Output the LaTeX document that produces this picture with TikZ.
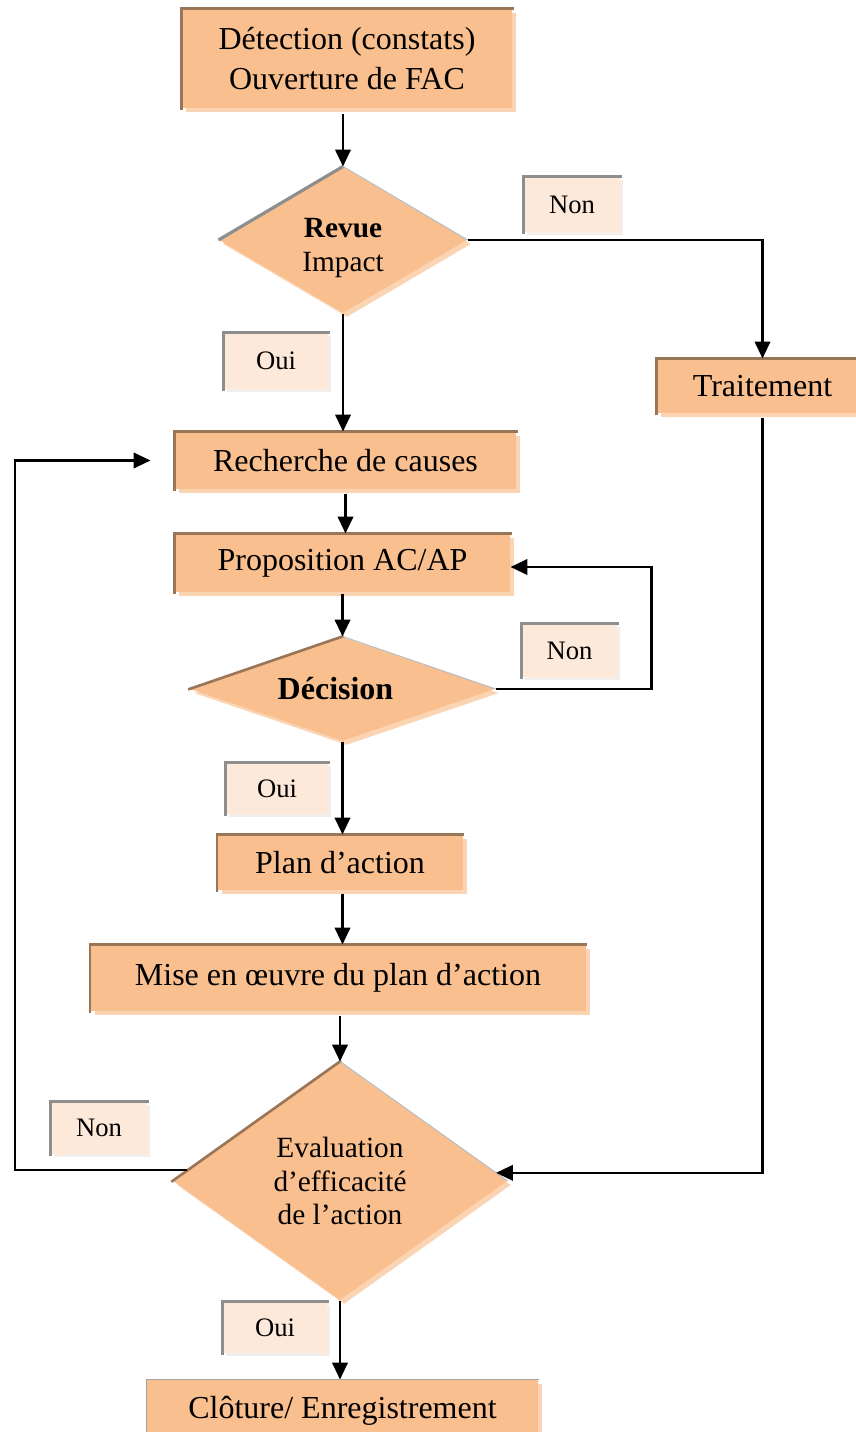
\documentclass[tikz,border=0pt]{standalone}
\usepackage{fontspec}
\setmainfont{Liberation Serif}
\usetikzlibrary{arrows.meta,shapes.geometric,shadows}

\definecolor{peach}{HTML}{FABF8F}
\definecolor{peachlt}{HTML}{FBD4B4}
\definecolor{tagfill}{HTML}{FDE9D9}
\definecolor{tagshade}{HTML}{F3EEEA}
\definecolor{rim}{HTML}{9A7658}
\definecolor{greyrim}{HTML}{8E8E8E}
\newcommand\pxu{0.375pt}

\tikzset{
  dims/.style 2 args={minimum width=#1*\pxu, minimum height=#2*\pxu},
  stepbox/.style={rectangle, fill=peach, inner sep=0pt, align=center,
    font=\fontsize{12}{15}\selectfont,
    drop shadow={shadow xshift=1.5pt, shadow yshift=-1.5pt, fill=peachlt, opacity=1}},
  choice/.style={diamond, fill=peach, inner sep=0pt, align=center,
    font=\fontsize{11}{12.4}\selectfont,
    drop shadow={shadow xshift=1.5pt, shadow yshift=-1.5pt, fill=peachlt, opacity=1}},
  tagbox/.style={rectangle, fill=tagfill, inner sep=0pt,
    font=\fontsize{10}{12}\selectfont,
    drop shadow={shadow xshift=1.2pt, shadow yshift=-1.2pt, fill=tagshade, opacity=1}},
  rimline/.style={rim, line width=1pt, line cap=rect},
  greyline/.style={greyrim, line width=0.9pt, line cap=rect},
  edgeline/.style={gray!55, line width=0.4pt},
  arr/.style={-{Triangle[length=6.3pt,width=5.8pt]}, line width=0.8pt},
}

\begin{document}
\begin{tikzpicture}[x=\pxu, y=-\pxu]
\useasboundingbox (0,0) rectangle (855,1432);

% process steps
\node[stepbox, dims={330}{99}] (det) at (347,58.5) {Détection (constats)\\Ouverture de FAC};
\node[stepbox, dims={211}{54}] (trait) at (762.5,386) {Traitement};
\node[stepbox, dims={341}{57}] (rech) at (345.5,460.5) {Recherche de causes};
\node[stepbox, dims={335}{58}] (prop) at (342.5,563) {Proposition AC/AP};
\node[stepbox, dims={245}{55}] (plan) at (340,862.5) {Plan d’action};
\node[stepbox, dims={495}{66}] (mise) at (338,978) {Mise en œuvre du plan d’action};
\node[stepbox, dims={391}{62}] (clot) at (342.5,1411) {Clôture/ Enregistrement};

% decisions
\node[choice, dims={248}{146}, shape aspect=1.7,
  label={[font=\fontsize{11}{12.4}\selectfont, align=center, yshift=-8*\pxu]center:{\textbf{Revue}\\Impact}}]
  (revue) at (343,240) {};
\node[choice, dims={305}{104}, shape aspect=2.93,
  label={[font=\fontsize{12}{14}\selectfont, xshift=-7*\pxu]center:{\textbf{Décision}}}]
  (dec) at (342.5,689) {};
\node[choice, dims={334}{238}, shape aspect=1.4] (eval) at (340,1181) {Evaluation\\d’efficacité\\de l’action};

% answer tags
\node[tagbox, dims={96}{55}] (non1) at (572,204.5) {Non};
\node[tagbox, dims={104}{56}] (oui1) at (276,361) {Oui};
\node[tagbox, dims={95}{53}] (non2) at (569.5,650.5) {Non};
\node[tagbox, dims={102}{51}] (oui2) at (277,788.5) {Oui};
\node[tagbox, dims={96}{52}] (non3) at (99,1128) {Non};
\node[tagbox, dims={104}{51}] (oui3) at (275,1327.5) {Oui};

% raised top-left rims
\foreach \n in {det,trait,rech,prop,plan,mise}
  \draw[rimline] (\n.south west) -- (\n.north west) -- (\n.north east);
\draw[greyrim!80, line width=0.6pt] (clot.south west) -- (clot.north west) -- (clot.north east);
\foreach \n in {non1,oui1,non2,oui2,non3,oui3}
  \draw[greyline] (\n.south west) -- (\n.north west) -- (\n.north east);
\draw[greyrim, line width=1.2pt] (revue.west) -- (revue.north);
\draw[rimline] (dec.west) -- (dec.north);
\draw[rimline] (eval.west) -- (eval.north);
\foreach \n in {revue,dec,eval}
  \draw[edgeline] (\n.north) -- (\n.east);

% flow
\coordinate (loopx) at (15,0);
\draw[arr] (revue.north |- det.south) ++(0,5) -- (revue.north);
\draw[arr] (revue.east) -| (trait.north);
\draw[arr] (revue.south) -- (revue.south |- rech.north);
\draw[arr] (rech.south) ++(0,4) -- (rech.south |- prop.north);
\draw[arr] (dec.north |- prop.south) ++(0,1) -- (dec.north);
\draw[arr] (dec.east) -- ++(156,0) |- ([yshift=-1.5pt]prop.east);
\draw[arr] (dec.south) -- (dec.south |- plan.north);
\draw[arr] (dec.south |- plan.south) ++(0,3) -- (dec.south |- mise.north);
\draw[arr] (eval.north |- mise.south) ++(0,4) -- (eval.north);
\draw[arr] (trait.south) ++(0,4) |- (eval.3);
\draw[arr, shorten >=24*\pxu] (eval.176) -| (loopx |- rech.west) -- (rech.west);
\draw[arr] (eval.south) -- (eval.south |- clot.north);
\end{tikzpicture}
\end{document}
